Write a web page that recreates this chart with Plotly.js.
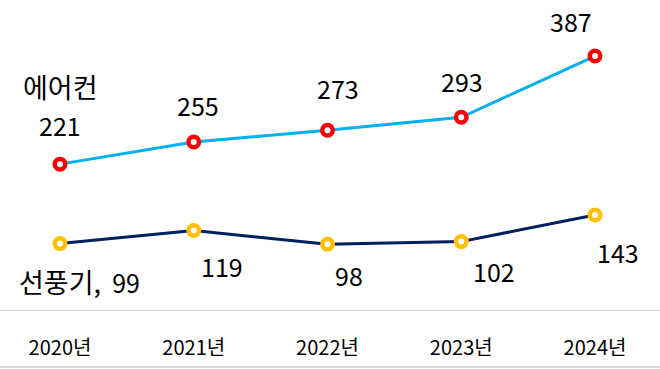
<!DOCTYPE html>
<html>
<head>
<meta charset="utf-8">
<script src="https://cdn.plot.ly/plotly-3.0.1.min.js"></script>
<style>html,body{margin:0;padding:0;background:#fff;}#chart{width:660px;height:369px;}</style>
</head>
<body>
<div id="chart"></div>
<script>
const years = ['2020년', '2021년', '2022년', '2023년', '2024년'];
const acName = '에어컨';
const acValues = [221, 255, 273, 293, 387];
const fanName = '선풍기';
const fanValues = [99, 119, 98, 102, 143];

// label offsets in pixels (dx right, dy down)
const acOffsets = [[0, -39], [4, -37], [10, -42], [1, -36], [-24, -35]];
const fanOffsets = [[82, 38], [28, 35], [21, 31], [33, 29], [23, 37]];

const FONT = '"Noto Sans CJK KR", "Malgun Gothic", sans-serif';

const traces = [
  {
    x: years, y: acValues, name: acName, type: 'scatter', mode: 'lines+markers',
    line: {color: '#00B0F0', width: 3},
    marker: {size: 10.5, color: '#ffffff', line: {color: '#FF0000', width: 4.5}},
    cliponaxis: false
  },
  {
    x: years, y: fanValues, name: fanName, type: 'scatter', mode: 'lines+markers',
    line: {color: '#002060', width: 3},
    marker: {size: 10.5, color: '#ffffff', line: {color: '#FFC000', width: 4.5}},
    cliponaxis: false
  }
];

const annotations = [];
acValues.forEach((v, i) => {
  annotations.push({
    x: years[i], y: v, xref: 'x', yref: 'y', text: String(v), showarrow: false,
    xanchor: 'center', yanchor: 'middle',
    xshift: acOffsets[i][0], yshift: -acOffsets[i][1],
    font: {family: FONT, size: 25, color: '#000'}
  });
});
annotations.push({
  x: years[0], y: acValues[0], xref: 'x', yref: 'y', text: acName, showarrow: false,
  xanchor: 'center', yanchor: 'middle', xshift: 0, yshift: 78,
  font: {family: FONT, size: 27, color: '#000'}
});
fanValues.forEach((v, i) => {
  const first = i === 0;
  annotations.push({
    x: years[i], y: v, xref: 'x', yref: 'y',
    text: first ? '<span style="font-size:27px">' + fanName + ',</span>  ' + v : String(v),
    showarrow: false,
    xanchor: first ? 'right' : 'center', yanchor: 'middle',
    xshift: fanOffsets[i][0], yshift: -fanOffsets[i][1],
    font: {family: FONT, size: 25, color: '#000'}
  });
});

const layout = {
  width: 660, height: 369,
  margin: {l: 0, r: 0, t: 15, b: 59},
  paper_bgcolor: '#ffffff', plot_bgcolor: '#ffffff',
  showlegend: false,
  xaxis: {
    type: 'category', range: [-0.4486, 4.486],
    showgrid: false, zeroline: false,
    showline: true, linecolor: '#d9d9d9', linewidth: 1,
    ticks: '', ticklabelstandoff: 20,
    tickfont: {family: FONT, size: 20, color: '#000'}
  },
  yaxis: {
    range: [-3, 450], visible: false, showgrid: false, zeroline: false
  },
  shapes: [{
    type: 'line', xref: 'paper', yref: 'paper', x0: 0, x1: 1, y0: -0.1932, y1: -0.1932,
    line: {color: '#d9d9d9', width: 2}
  }],
  annotations: annotations
};

Plotly.newPlot('chart', traces, layout, {displayModeBar: false, staticPlot: true});
</script>
</body>
</html>
